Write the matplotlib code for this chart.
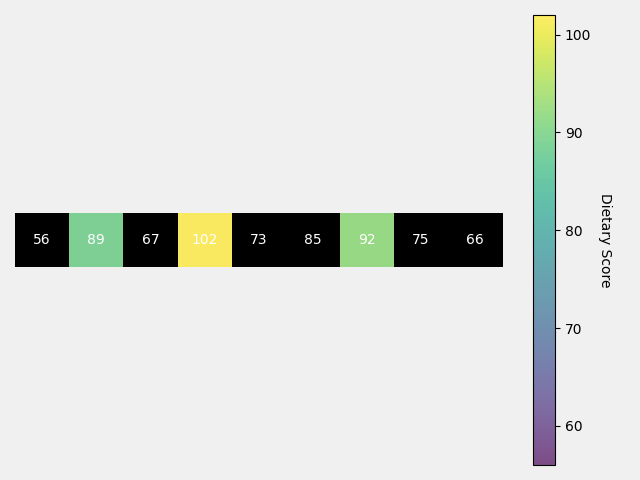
import numpy as np
import matplotlib.pyplot as plt
from matplotlib.colors import ListedColormap

# dietary scores per cell (single row)
scores = [56, 89, 67, 102, 73, 85, 92, 75, 66]
# cells shown in colour (others drawn black)
highlight = [False, True, False, True, False, False, True, False, False]

data = np.array([scores], dtype=float)
hl = np.array([highlight])

fig, ax = plt.subplots(figsize=(6.4, 4.8), dpi=100)
fig.patch.set_facecolor("#f0f0f0")

im = ax.imshow(data, cmap="viridis", alpha=0.7,
               vmin=min(scores), vmax=max(scores), aspect="equal")
# black overlay on the non-highlighted cells
ax.imshow(np.ma.masked_array(np.zeros_like(data), mask=hl),
          cmap=ListedColormap(["black"]), aspect="equal")

for j, v in enumerate(scores):
    ax.text(j, 0, str(v), ha="center", va="center", color="white", fontsize=10)

ax.axis("off")

cbar = fig.colorbar(im, ax=ax)
cbar.set_label("Dietary Score", rotation=270, labelpad=15)

fig.tight_layout()
plt.savefig("out.png", dpi=100, facecolor=fig.get_facecolor())
